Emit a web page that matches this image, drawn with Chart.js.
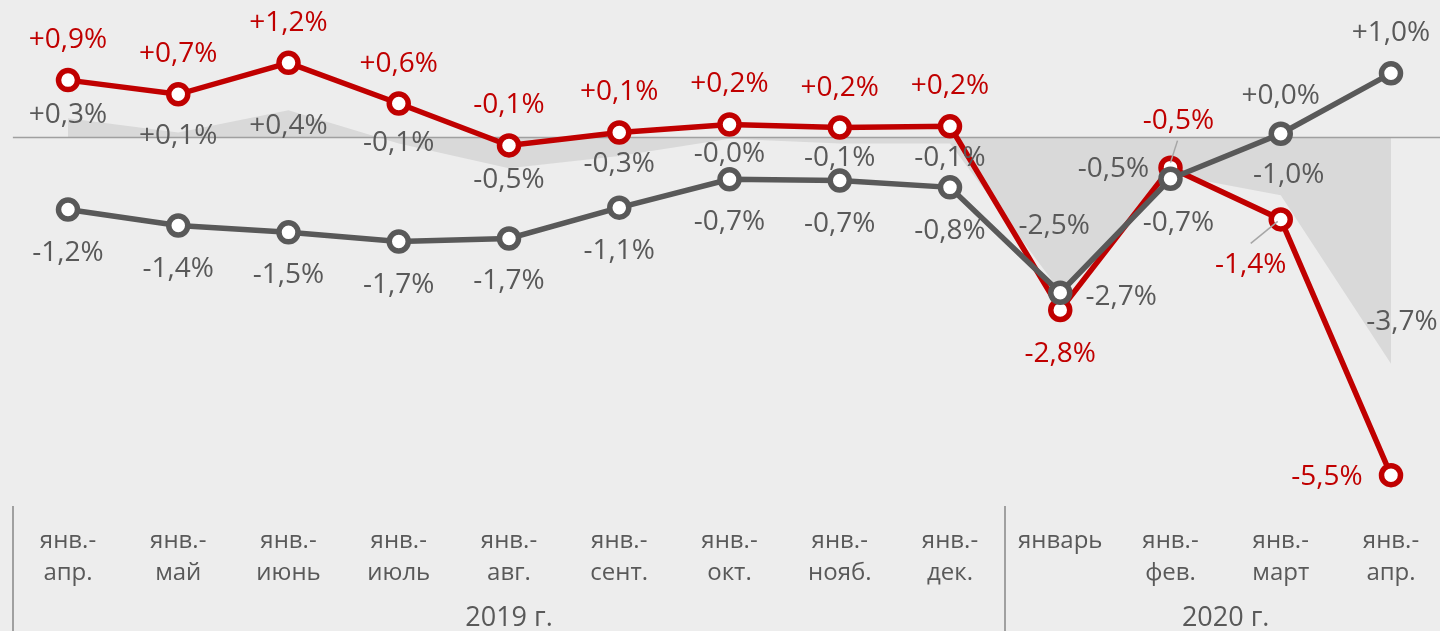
<!DOCTYPE html>
<html>
<head>
<meta charset="utf-8">
<script src="https://cdn.jsdelivr.net/npm/chart.js@4.4.1/dist/chart.umd.min.js"></script>
<style>
html,body{margin:0;padding:0;background:#ededed;overflow:hidden;}
#wrap{position:relative;width:1440px;height:631px;}
</style>
</head>
<body>
<div id="wrap"><canvas id="c"></canvas></div>
<script>
const categories = [["янв.-","апр."],["янв.-","май"],["янв.-","июнь"],["янв.-","июль"],["янв.-","авг."],["янв.-","сент."],["янв.-","окт."],["янв.-","нояб."],["янв.-","дек."],["январь"],["янв.-","фев."],["янв.-","март"],["янв.-","апр."]];
const yearGroups = [{label:"2019 г.", from:0, to:8},{label:"2020 г.", from:9, to:12}];

const redValues  = [0.93, 0.70, 1.21, 0.55, -0.13, 0.08, 0.21, 0.16, 0.18, -2.80, -0.49, -1.33, -5.48];
const redLabels  = ["+0,9%","+0,7%","+1,2%","+0,6%","-0,1%","+0,1%","+0,2%","+0,2%","+0,2%","-2,8%","-0,5%","-1,4%","-5,5%"];

const grayValues = [-1.17, -1.43, -1.54, -1.69, -1.64, -1.14, -0.68, -0.70, -0.81, -2.52, -0.67, 0.06, 1.04];
const grayLabels = ["-1,2%","-1,4%","-1,5%","-1,7%","-1,7%","-1,1%","-0,7%","-0,7%","-0,8%","-2,7%","-0,7%","+0,0%","+1,0%"];

const areaValues = [0.31, 0.08, 0.44, -0.10, -0.50, -0.30, -0.02, -0.10, -0.10, -2.50, -0.60, -0.94, -3.67];
const areaLabels = ["+0,3%","+0,1%","+0,4%","-0,1%","-0,5%","-0,3%","-0,0%","-0,1%","-0,1%","-2,5%","-0,5%","-1,0%","-3,7%"];

const FONT = "'Open Sans', 'Noto Sans', sans-serif";
const RED = '#c00000', GRAY = '#595959', AREA = '#d9d9d9', AXIS = '#a0a0a0';

// label placement (offsets from the point, in px)
const redOffsets  = [[0,-40],[0,-40],[0,-40],[0,-40],[0,-40],[0,-40],[0,-40],[0,-40],[0,-40],[0,44],[8,-47],[-30,46],[-64,2]];
const grayOffsets = [[0,43],[0,43],[0,43],[0,43],[0,43],[0,43],[0,43],[0,43],[0,44],[61,4],[8,44],[0,-38],[0,-40]];
const areaOffsets = [[0,-3],[0,4],[0,16],[0,-1],[0,12],[0,8],[0,15],[0,14],[0,14],[-6,-65],[-57,-5],[8,-20],[11,-42]];
const leaders = [ {ds:0, i:10, from:[7,-27], to:[0,-5]}, {ds:0, i:11, from:[-30,24], to:[-3,2]} ];

const annot = {
  id: 'annot',
  afterDatasetDraw(chart, args) {
    if (args.index !== 2) return;
    const ctx = chart.ctx, x = chart.scales.x, y = chart.scales.y;
    const y0 = Math.round(y.getPixelForValue(0)) + 0.5;
    ctx.save();
    ctx.strokeStyle = AXIS; ctx.lineWidth = 1.6;
    ctx.beginPath(); ctx.moveTo(x.getPixelForValue(-0.5), y0); ctx.lineTo(chart.width, y0); ctx.stroke();
    ctx.restore();
  },
  afterDraw(chart) {
    const ctx = chart.ctx, x = chart.scales.x, y = chart.scales.y, area = chart.chartArea;
    ctx.save();
    // leader lines
    ctx.strokeStyle = '#a6a6a6'; ctx.lineWidth = 1.5;
    leaders.forEach(l => {
      const m = chart.getDatasetMeta(l.ds).data[l.i];
      ctx.beginPath(); ctx.moveTo(m.x + l.from[0], m.y + l.from[1]); ctx.lineTo(m.x + l.to[0], m.y + l.to[1]); ctx.stroke();
    });
    // data labels
    ctx.font = "28px " + FONT;
    ctx.textAlign = 'center'; ctx.textBaseline = 'middle';
    const sets = [[0, redLabels, redOffsets, RED],[1, grayLabels, grayOffsets, GRAY],[2, areaLabels, areaOffsets, GRAY]];
    sets.forEach(([ds, labels, offs, col]) => {
      const meta = chart.getDatasetMeta(ds);
      ctx.fillStyle = col;
      meta.data.forEach((pt, i) => {
        ctx.fillText(labels[i], pt.x + offs[i][0], pt.y + offs[i][1]);
      });
    });
    // group separators
    ctx.strokeStyle = AXIS; ctx.lineWidth = 2;
    const bounds = [-0.5];
    yearGroups.forEach(g => bounds.push(g.to + 0.5));
    bounds.slice(0, -1).forEach(b => {
      const px = Math.round(x.getPixelForValue(b));
      ctx.beginPath(); ctx.moveTo(px, area.bottom); ctx.lineTo(px, chart.height); ctx.stroke();
    });
    // year labels
    ctx.font = "27px " + FONT; ctx.fillStyle = GRAY;
    yearGroups.forEach(g => {
      const cx = (x.getPixelForValue(g.from - 0.5) + x.getPixelForValue(g.to + 0.5)) / 2;
      ctx.fillText(g.label, cx, 618);
    });
    ctx.restore();
  }
};

new Chart(document.getElementById('c'), {
  type: 'line',
  data: {
    labels: categories,
    datasets: [
      { data: redValues, borderColor: RED, borderWidth: 5.5, pointRadius: 9.5, pointHoverRadius: 9.5,
        pointBorderWidth: 5.5, pointBackgroundColor: '#ffffff', pointBorderColor: RED, fill: false, order: 1, clip: false },
      { data: grayValues, borderColor: GRAY, borderWidth: 5.5, pointRadius: 9.5, pointHoverRadius: 9.5,
        pointBorderWidth: 5.5, pointBackgroundColor: '#ffffff', pointBorderColor: GRAY, fill: false, order: 0, clip: false },
      { data: areaValues, borderWidth: 0, borderColor: 'rgba(0,0,0,0)', backgroundColor: AREA, pointRadius: 0,
        fill: 'origin', order: 2 }
    ]
  },
  options: {
    responsive: true, maintainAspectRatio: false, animation: false, devicePixelRatio: 1,
    layout: { autoPadding: false, padding: { left: 68, right: 49, top: 0, bottom: 23 } },
    plugins: { legend: { display: false }, tooltip: { enabled: false } },
    events: [],
    scales: {
      x: { type: 'category', offset: false,
           grid: { display: false, drawTicks: false }, border: { display: false },
           ticks: { color: GRAY, font: { family: FONT, size: 24, lineHeight: '32px' }, padding: 19,
                    maxRotation: 0, autoSkip: false } },
      y: { display: false, min: -5.98, max: 2.23 }
    }
  },
  plugins: [annot]
});
</script>
</body>
</html>
